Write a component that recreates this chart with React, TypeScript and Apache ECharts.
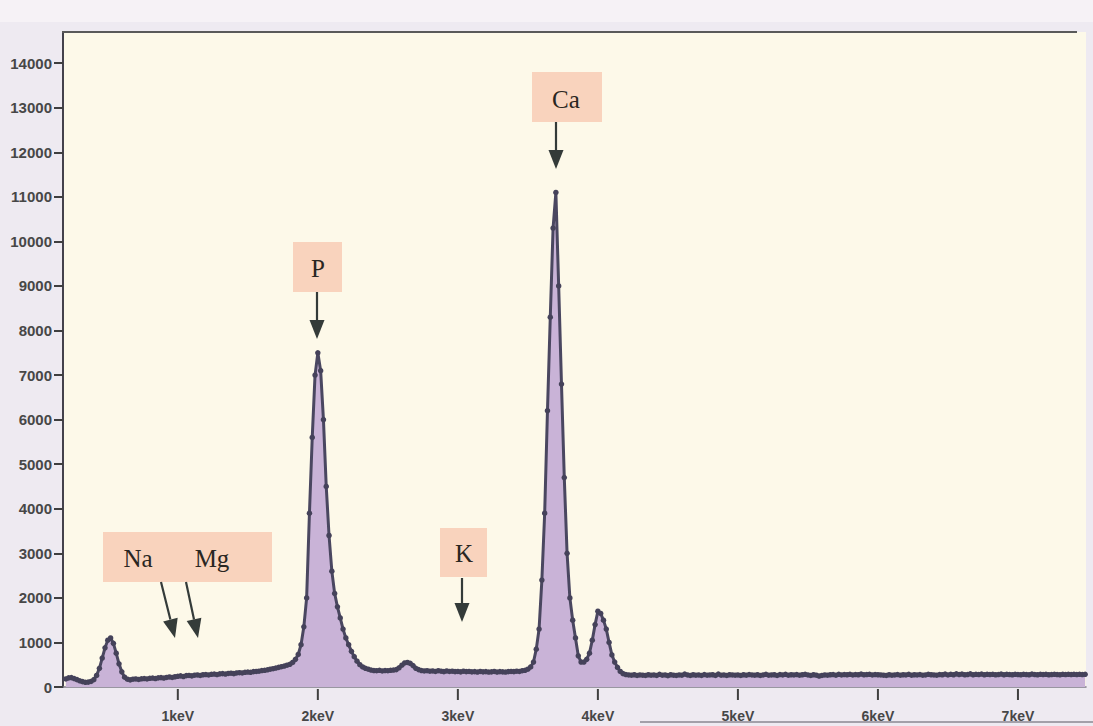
import React, { useEffect, useRef } from 'react';
import * as echarts from 'echarts';

// Energy channels: start (keV) and step (keV)
const energyStart = 0.2;
const energyStep = 0.02;

// Counts, one per channel (0.20 keV ... 7.48 keV)
const counts = [
  // 0.20 - 0.38
  180, 205, 210, 190, 165, 140, 120, 105, 110, 125,
  // 0.40 - 0.58
  165, 260, 420, 650, 880, 1050, 1100, 980, 760, 520,
  // 0.60 - 0.78
  340, 220, 175, 160, 175, 180, 170, 185, 190, 180,
  // 0.80 - 0.98
  195, 200, 190, 205, 210, 200, 215, 225, 215, 230,
  // 1.00 - 1.18
  240, 250, 235, 255, 260, 250, 265, 270, 260, 275,
  // 1.20 - 1.38
  280, 270, 285, 290, 280, 295, 300, 290, 305, 310,
  // 1.40 - 1.58
  300, 315, 320, 315, 330, 335, 330, 345, 350, 355,
  // 1.60 - 1.78
  370, 375, 385, 400, 410, 425, 440, 455, 470, 490,
  // 1.80 - 1.98
  510, 550, 620, 730, 950, 1350, 2000, 3900, 5600, 7000,
  // 2.00 - 2.18
  7500, 7100, 6000, 4500, 3400, 2600, 2100, 1800, 1550, 1300,
  // 2.20 - 2.38
  1100, 950, 800, 680, 580, 500, 450, 420, 400, 380,
  // 2.40 - 2.58
  370, 365, 375, 360, 370, 365, 375, 380, 390, 430,
  // 2.60 - 2.78
  490, 540, 550, 530, 480, 420, 390, 370, 360, 365,
  // 2.80 - 2.98
  355, 360, 350, 365, 355, 345, 360, 350, 355, 345,
  // 3.00 - 3.18
  350, 340, 355, 345, 350, 340, 345, 335, 350, 340,
  // 3.20 - 3.38
  345, 335, 340, 350, 335, 345, 340, 335, 345, 350,
  // 3.40 - 3.58
  345, 355, 350, 365, 375, 400, 450, 560, 850, 1300,
  // 3.60 - 3.78
  2400, 3900, 6200, 8300, 10300, 11100, 9000, 6800, 4700, 3000,
  // 3.80 - 3.98
  2000, 1500, 1100, 700, 560, 560, 620, 760, 1050, 1400,
  // 4.00 - 4.18
  1700, 1650, 1500, 1300, 1000, 720, 560, 440, 350, 300,
  // 4.20 - 4.38
  280, 270, 265, 275, 260, 270, 265, 260, 275, 265,
  // 4.40 - 4.58
  270, 260, 285, 265, 270, 255, 275, 265, 260, 270,
  // 4.60 - 4.78
  265, 290, 270, 260, 275, 265, 270, 260, 280, 265,
  // 4.80 - 4.98
  270, 275, 260, 290, 265, 270, 260, 275, 270, 265,
  // 5.00 - 5.18
  270, 260, 275, 265, 280, 270, 265, 275, 260, 270,
  // 5.20 - 5.38
  285, 265, 270, 275, 260, 280, 270, 285, 265, 275,
  // 5.40 - 5.58
  270, 280, 265, 275, 285, 270, 260, 275, 265, 245,
  // 5.60 - 5.78
  260, 270, 265, 275, 280, 265, 285, 270, 280, 275,
  // 5.80 - 5.98
  285, 270, 280, 275, 290, 275, 280, 285, 270, 280,
  // 6.00 - 6.18
  275, 270, 265, 260, 275, 265, 270, 280, 265, 275,
  // 6.20 - 6.38
  270, 285, 265, 275, 270, 280, 265, 270, 285, 275,
  // 6.40 - 6.58
  270, 265, 280, 275, 290, 270, 285, 275, 295, 280,
  // 6.60 - 6.78
  290, 275, 280, 295, 275, 285, 280, 290, 275, 285,
  // 6.80 - 6.98
  280, 285, 275, 280, 290, 275, 285, 280, 275, 285,
  // 7.00 - 7.18
  280, 275, 285, 280, 275, 290, 280, 275, 285, 280,
  // 7.20 - 7.38
  285, 275, 280, 285, 280, 275, 285, 280, 285, 280,
  // 7.40 - 7.48
  285, 280, 285, 280, 285,
];

const xTickValues = [1, 2, 3, 4, 5, 6, 7];
const yTickValues = [0, 1000, 2000, 3000, 4000, 5000, 6000, 7000, 8000, 9000, 10000, 11000, 12000, 13000, 14000];

// Element labels for the annotation boxes
const elementLabels = ['Ca', 'P', 'K', 'Na', 'Mg'];

const W = 1093;
const H = 726;

function arrowHead(x1: number, y1: number, x2: number, y2: number, len: number, half: number) {
  const dx = x2 - x1;
  const dy = y2 - y1;
  const d = Math.sqrt(dx * dx + dy * dy);
  const ux = dx / d;
  const uy = dy / d;
  const bx = x2 - ux * len;
  const by = y2 - uy * len;
  const px = -uy * half;
  const py = ux * half;
  return [
    [bx + px, by + py],
    [bx - px, by - py],
    [x2, y2],
  ];
}

function arrow(x1: number, y1: number, x2: number, y2: number) {
  const head = arrowHead(x1, y1, x2, y2, 19, 7.5);
  const bx = (head[0][0] + head[1][0]) / 2;
  const by = (head[0][1] + head[1][1]) / 2;
  return [
    {
      type: 'line',
      shape: { x1, y1, x2: bx, y2: by },
      style: { stroke: '#343b39', lineWidth: 2.2 },
      z: 20,
    },
    {
      type: 'polygon',
      shape: { points: head },
      style: { fill: '#343b39' },
      z: 20,
    },
  ];
}

function box(x: number, y: number, w: number, h: number) {
  return {
    type: 'rect',
    shape: { x, y, width: w, height: h },
    style: { fill: '#f9d3bd' },
    z: 15,
  };
}

function label(text: string, cx: number, cy: number) {
  return {
    type: 'text',
    x: cx,
    y: cy,
    style: {
      text,
      fill: '#2a2622',
      font: '25px "Liberation Serif", "DejaVu Serif", serif',
      textAlign: 'center',
      textVerticalAlign: 'middle',
    },
    z: 16,
  };
}

export default function App() {
  const ref = useRef<HTMLDivElement>(null);

  useEffect(() => {
    if (!ref.current) return;
    const chart = echarts.init(ref.current, undefined, { renderer: 'svg' });

    const data = counts.map((c, i) => [Number((energyStart + i * energyStep).toFixed(2)), c]);

    const axisFont = {
      color: '#474747',
      fontWeight: 'bold' as const,
      fontFamily: '"Liberation Sans", Arial, sans-serif',
    };

    const staticGraphics: any[] = [
      {
        type: 'rect',
        shape: { x: 0, y: 0, width: W, height: 22 },
        style: { fill: '#f6f2f6' },
        z: -1,
        silent: true,
      },
      {
        type: 'line',
        shape: { x1: 62, y1: 32, x2: 1077, y2: 32 },
        style: { stroke: '#5a5a5a', lineWidth: 2 },
        z: 10,
      },
      {
        type: 'line',
        shape: { x1: 640, y1: 722, x2: W, y2: 722 },
        style: { stroke: '#8a8790', lineWidth: 1.5 },
        z: 10,
      },
      // Ca
      box(532, 72, 70, 50),
      label(elementLabels[0], 566, 99),
      ...arrow(556, 122, 556, 169),
      // P
      box(293, 242, 49, 50),
      label(elementLabels[1], 318, 268),
      ...arrow(317, 292, 317, 339),
      // K
      box(440, 528, 47, 49),
      label(elementLabels[2], 464, 553),
      ...arrow(462, 578, 462, 622),
      // Na Mg
      box(103, 532, 169, 50),
      label(elementLabels[3], 138, 558),
      label(elementLabels[4], 212, 558),
      ...arrow(161, 582, 175, 638),
      ...arrow(186, 582, 198, 638),
    ];

    const option: any = {
      animation: false,
      backgroundColor: '#eeeaf1',
      grid: {
        left: 63,
        right: 7,
        top: 32,
        bottom: 39,
        show: true,
        backgroundColor: '#fdf9e9',
        borderWidth: 0,
      },
      xAxis: {
        type: 'value',
        min: 0.18,
        max: 7.486,
        axisLine: { show: true, onZero: false, lineStyle: { color: '#7d7b86', width: 1.5 } },
        axisTick: { show: false },
        axisLabel: {
          customValues: xTickValues,
          formatter: (v: number) => `${v}keV`,
          margin: 22,
          fontSize: 14,
          ...axisFont,
        },
        splitLine: { show: false },
      },
      yAxis: {
        type: 'value',
        min: 0,
        max: 14700,
        axisLine: { show: true, lineStyle: { color: '#44424c', width: 2 } },
        axisTick: {
          show: true,
          customValues: yTickValues,
          length: 9,
          lineStyle: { color: '#3f3f3f', width: 2 },
        },
        axisLabel: {
          customValues: yTickValues,
          formatter: (v: number) => String(v),
          margin: 11,
          fontSize: 15,
          ...axisFont,
        },
        splitLine: { show: false },
      },
      series: [
        {
          type: 'line',
          data,
          symbol: 'circle',
          symbolSize: 5.5,
          showAllSymbol: true,
          lineStyle: { color: '#4a4760', width: 3 },
          itemStyle: { color: '#45425a' },
          areaStyle: { color: '#c9b3d7', opacity: 1 },
          z: 5,
        },
      ],
      graphic: staticGraphics,
    };

    chart.setOption(option);

    // x-axis tick marks placed through the axis scale
    const axisY = chart.convertToPixel({ yAxisIndex: 0 }, 0) as number;
    const tickMarks = xTickValues.map((v) => {
      const px = chart.convertToPixel({ xAxisIndex: 0 }, v) as number;
      return {
        type: 'line',
        shape: { x1: px, y1: axisY + 2, x2: px, y2: axisY + 13 },
        style: { stroke: '#3f3f3f', lineWidth: 2 },
        z: 10,
      };
    });
    chart.setOption({ graphic: [...staticGraphics, ...tickMarks] });

    return () => {
      chart.dispose();
    };
  }, []);

  return (
    <div
      ref={ref}
      style={{ position: 'fixed', left: 0, top: 0, width: W, height: H }}
    />
  );
}
